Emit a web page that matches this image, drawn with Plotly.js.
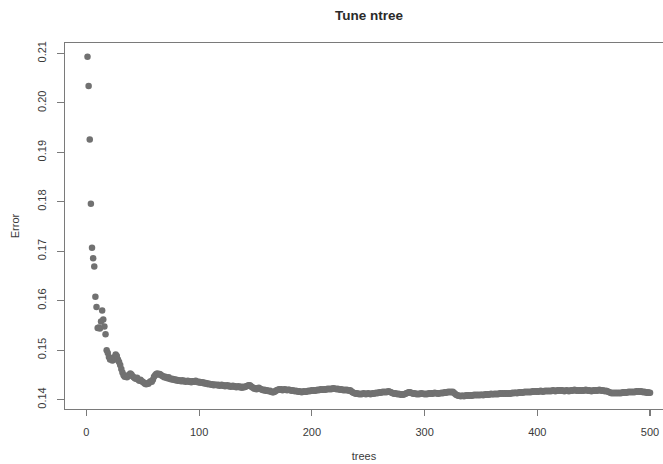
<!DOCTYPE html>
<html>
<head>
<meta charset="utf-8">
<script src="https://cdn.plot.ly/plotly-3.0.1.min.js"></script>
<style>html,body{margin:0;padding:0;background:#fff;}#chart{width:663px;height:464px;}</style>
</head>
<body>
<div id="chart"></div>
<script>
// OOB error by number of trees
const errors = [
0.2093,0.2034,0.1926,0.1796,0.1707,0.1686,0.1669,0.1608,0.1587,0.1545,
0.1546,0.1544,0.1558,0.1580,0.1562,0.1548,0.1532,0.1500,0.1494,0.1486,
0.1481,0.1483,0.1479,0.1480,0.1486,0.1491,0.1488,0.1481,0.1476,0.1470,
0.1462,0.1455,0.1449,0.1446,0.1448,0.1445,0.1447,0.1450,0.1453,0.1451,
0.1447,0.1445,0.1443,0.1442,0.1444,0.1440,0.1438,0.1440,0.1437,0.1436,
0.1434,0.1432,0.1431,0.1433,0.1432,0.1435,0.1437,0.1436,0.1440,0.1446,
0.1449,0.1452,0.1453,0.1451,0.1452,0.1450,0.1448,0.1447,0.1445,0.1446,
0.1444,0.1443,0.1445,0.1442,0.1441,0.1442,0.1440,0.1441,0.1439,0.1440,
0.1438,0.1439,0.1438,0.1437,0.1439,0.1437,0.1438,0.1436,0.1437,0.1438,
0.1436,0.1437,0.1435,0.1437,0.1437,0.1436,0.1438,0.1436,0.1435,0.1436,
0.1434,0.1435,0.1435,0.1433,0.1434,0.1432,0.1433,0.1431,0.1432,0.1431,
0.1430,0.1431,0.1429,0.1430,0.1430,0.1429,0.1430,0.1428,0.1429,0.1430,
0.1428,0.1429,0.1427,0.1428,0.1429,0.1427,0.1428,0.1426,0.1427,0.1428,
0.1426,0.1427,0.1425,0.1426,0.1427,0.1425,0.1426,0.1424,0.1426,0.1425,
0.1426,0.1427,0.1428,0.1429,0.1429,0.1427,0.1425,0.1424,0.1422,0.1423,
0.1421,0.1423,0.1424,0.1422,0.1421,0.1420,0.1419,0.1420,0.1418,0.1419,
0.1418,0.1417,0.1418,0.1416,0.1415,0.1415,0.1416,0.1418,0.1419,0.1420,
0.1421,0.1420,0.1421,0.1419,0.1420,0.1421,0.1420,0.1419,0.1420,0.1420,
0.1419,0.1418,0.1419,0.1418,0.1417,0.1418,0.1417,0.1416,0.1417,0.1416,
0.1415,0.1416,0.1417,0.1416,0.1416,0.1417,0.1418,0.1417,0.1418,0.1419,
0.1418,0.1419,0.1418,0.1419,0.1420,0.1419,0.1420,0.1421,0.1420,0.1420,
0.1421,0.1420,0.1421,0.1422,0.1421,0.1422,0.1421,0.1422,0.1423,0.1422,
0.1422,0.1421,0.1422,0.1421,0.1420,0.1421,0.1420,0.1419,0.1420,0.1419,
0.1420,0.1419,0.1418,0.1419,0.1417,0.1415,0.1414,0.1413,0.1412,0.1413,
0.1412,0.1411,0.1412,0.1411,0.1412,0.1413,0.1412,0.1411,0.1412,0.1413,
0.1412,0.1411,0.1412,0.1413,0.1412,0.1413,0.1414,0.1413,0.1414,0.1415,
0.1414,0.1415,0.1416,0.1415,0.1416,0.1415,0.1416,0.1417,0.1416,0.1415,
0.1414,0.1413,0.1412,0.1413,0.1412,0.1411,0.1412,0.1411,0.1410,0.1411,
0.1410,0.1411,0.1412,0.1413,0.1414,0.1415,0.1415,0.1414,0.1413,0.1412,
0.1413,0.1412,0.1411,0.1412,0.1411,0.1412,0.1413,0.1412,0.1412,0.1411,
0.1412,0.1411,0.1412,0.1413,0.1412,0.1413,0.1412,0.1413,0.1414,0.1413,
0.1413,0.1412,0.1413,0.1413,0.1414,0.1413,0.1414,0.1415,0.1414,0.1415,
0.1416,0.1415,0.1416,0.1415,0.1416,0.1414,0.1412,0.1410,0.1409,0.1408,
0.1408,0.1407,0.1408,0.1408,0.1407,0.1408,0.1409,0.1408,0.1409,0.1408,
0.1409,0.1408,0.1409,0.1410,0.1409,0.1410,0.1409,0.1410,0.1409,0.1410,
0.1410,0.1409,0.1410,0.1411,0.1410,0.1411,0.1410,0.1411,0.1412,0.1411,
0.1411,0.1412,0.1411,0.1412,0.1411,0.1412,0.1413,0.1412,0.1413,0.1412,
0.1413,0.1412,0.1413,0.1412,0.1413,0.1412,0.1413,0.1414,0.1413,0.1414,
0.1414,0.1413,0.1414,0.1415,0.1414,0.1415,0.1414,0.1415,0.1416,0.1415,
0.1416,0.1415,0.1416,0.1415,0.1416,0.1417,0.1416,0.1417,0.1416,0.1417,
0.1416,0.1417,0.1418,0.1417,0.1416,0.1417,0.1418,0.1417,0.1418,0.1417,
0.1418,0.1417,0.1418,0.1419,0.1418,0.1417,0.1418,0.1419,0.1418,0.1419,
0.1418,0.1419,0.1418,0.1417,0.1418,0.1419,0.1418,0.1417,0.1418,0.1419,
0.1418,0.1419,0.1420,0.1419,0.1418,0.1419,0.1418,0.1419,0.1418,0.1419,
0.1418,0.1419,0.1420,0.1419,0.1418,0.1419,0.1418,0.1417,0.1418,0.1419,
0.1418,0.1419,0.1418,0.1419,0.1420,0.1419,0.1418,0.1419,0.1418,0.1417,
0.1418,0.1417,0.1416,0.1415,0.1414,0.1413,0.1414,0.1413,0.1414,0.1413,
0.1414,0.1413,0.1414,0.1413,0.1414,0.1415,0.1414,0.1415,0.1414,0.1415,
0.1416,0.1415,0.1416,0.1415,0.1416,0.1415,0.1416,0.1417,0.1416,0.1417,
0.1416,0.1417,0.1416,0.1415,0.1416,0.1415,0.1414,0.1415,0.1414,0.1414
];
const trees = errors.map((_, i) => i + 1);
const xTicks = [0, 100, 200, 300, 400, 500];
const yTicks = [0.14, 0.15, 0.16, 0.17, 0.18, 0.19, 0.20, 0.21];
const yTickLabels = ["0.14", "0.15", "0.16", "0.17", "0.18", "0.19", "0.20", "0.21"];

const font = "Liberation Sans, Arial, Helvetica, sans-serif";
const axisCol = "#7a7a7a";
const textCol = "#3a3a3a";

const trace = {
  x: trees, y: errors, type: "scatter", mode: "markers",
  marker: {color: "#717171", size: 6.5, line: {width: 0}},
  hoverinfo: "x+y"
};

const layout = {
  width: 663, height: 464,
  margin: {l: 65, r: 0, t: 43, b: 55, pad: 0},
  paper_bgcolor: "#ffffff", plot_bgcolor: "#ffffff",
  showlegend: false,
  font: {family: font, size: 11, color: textCol},
  title: {text: "<b>Tune ntree</b>", font: {family: font, size: 13.5, color: "#2a2a2a"},
          xref: "paper", x: 0.5085, xanchor: "center", yref: "container", y: 0.968, yanchor: "middle"},
  xaxis: {
    range: [-18.96, 511.5], showgrid: false, zeroline: false,
    showline: true, linecolor: axisCol, linewidth: 1.3, mirror: true,
    ticks: "outside", ticklen: 6, tickcolor: axisCol, tickwidth: 1.2,
    tickmode: "array", tickvals: xTicks, ticktext: xTicks.map(String),
    ticklabelstandoff: 6,
    tickfont: {family: font, size: 11, color: textCol},
    title: {text: "trees", font: {family: font, size: 11, color: textCol}, standoff: 15}
  },
  yaxis: {
    range: [0.1381, 0.2121], showgrid: false, zeroline: false,
    showline: true, linecolor: axisCol, linewidth: 1.3, mirror: false,
    ticks: "outside", ticklen: 7, tickcolor: axisCol, tickwidth: 1.2,
    tickmode: "array", tickvals: yTicks, ticktext: yTickLabels,
    tickangle: -90, ticklabelstandoff: 6,
    tickfont: {family: font, size: 11, color: textCol},
    title: {text: "Error", font: {family: font, size: 11, color: textCol}, standoff: 14}
  }
};

Plotly.newPlot("chart", [trace], layout, {displayModeBar: false, staticPlot: true});
</script>
</body>
</html>
